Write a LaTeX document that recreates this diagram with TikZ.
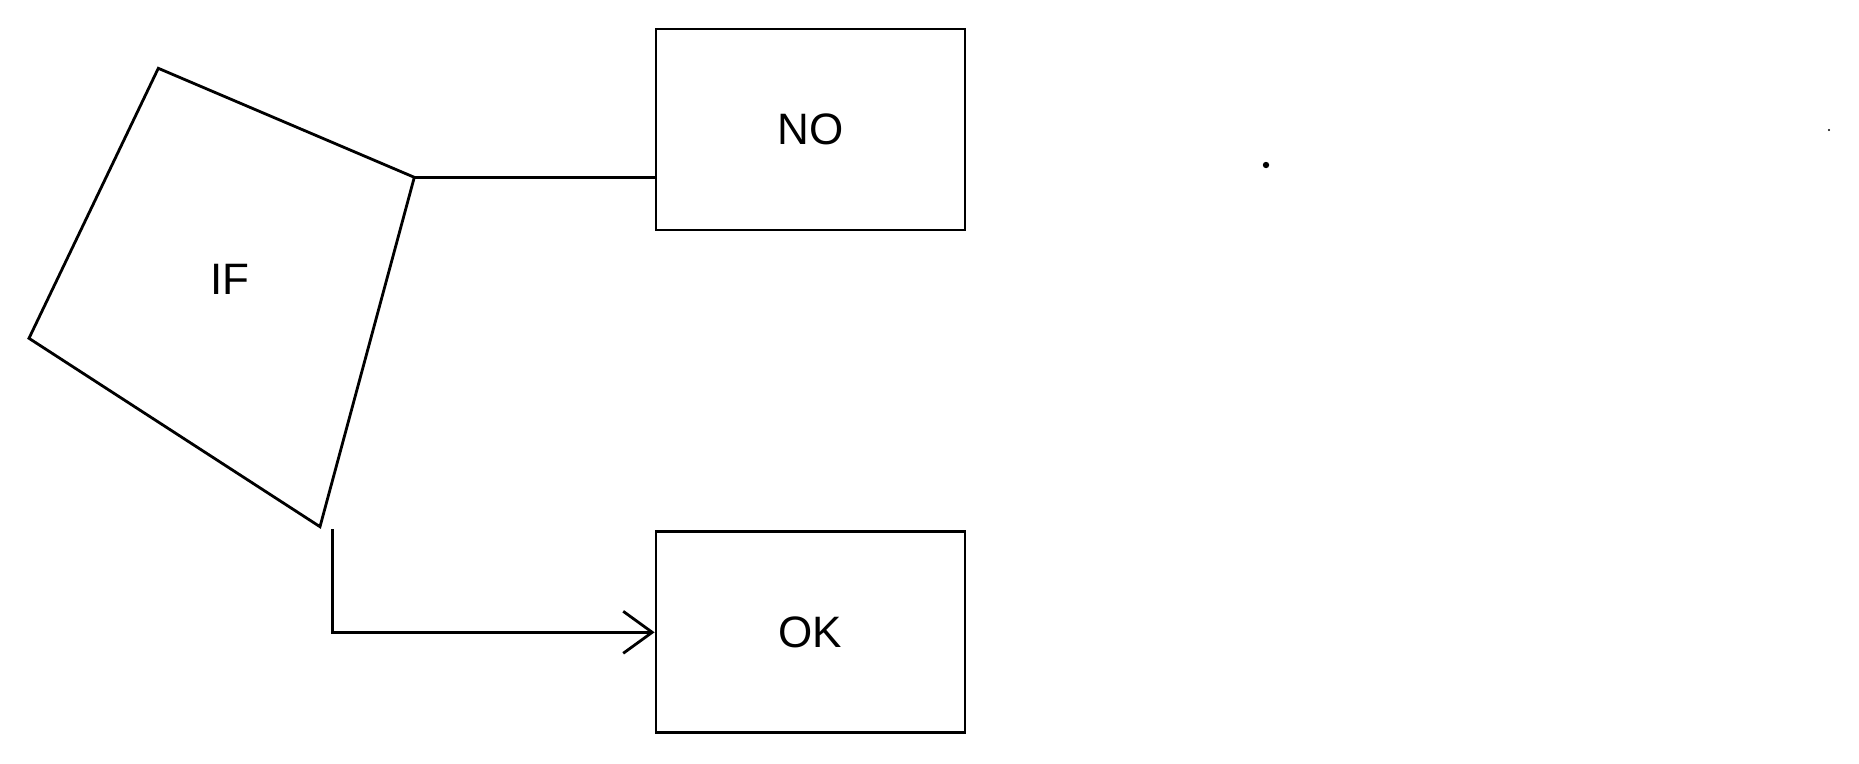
\documentclass[tikz,border=0pt]{standalone}
\usepackage{fontspec}
\setmainfont{Liberation Sans}
\usetikzlibrary{arrows.meta}
\begin{document}
\begin{tikzpicture}[x=1pt,y=-1pt,
  every path/.style={line width=2.8pt},
  lbl/.style={font=\fontsize{44}{53}\selectfont, inner sep=0pt},
  boxnode/.style={draw, line width=2.8pt, minimum width=309pt, minimum height=201pt, inner sep=0pt,
    font=\fontsize{44}{53}\selectfont},
  flow/.style={line width=2.8pt, line join=miter},
  openarrow/.style={-{Straight Barb[length=29pt,width=42pt]}}]
  \useasboundingbox (0,0) rectangle (1859,763);

  % decision shape
  \coordinate (ifT) at (158.3,68.3);
  \coordinate (ifR) at (414.3,177.3);
  \coordinate (ifB) at (320,526.7);
  \coordinate (ifL) at (29,338.3);
  \draw[flow] (ifT) -- (ifR) -- (ifB) -- (ifL) -- cycle;
  \node[lbl] (iflabel) at (229.7,279) {IF};

  % result boxes
  \node[boxnode] (no) at (810.5,129.5) {NO};
  \node[boxnode] (ok) at (810.5,632.3) {OK};

  % connectors
  \draw[flow] (ifR) -- (ifR -| no.west);
  \coordinate (okstart) at (332.3,529.3);
  \draw[flow, openarrow] (okstart) |- (ok.west);

  % stray points
  \fill (1266,165) circle (3.2pt);
  \fill (1829,130) circle (1.1pt);
\end{tikzpicture}
\end{document}
